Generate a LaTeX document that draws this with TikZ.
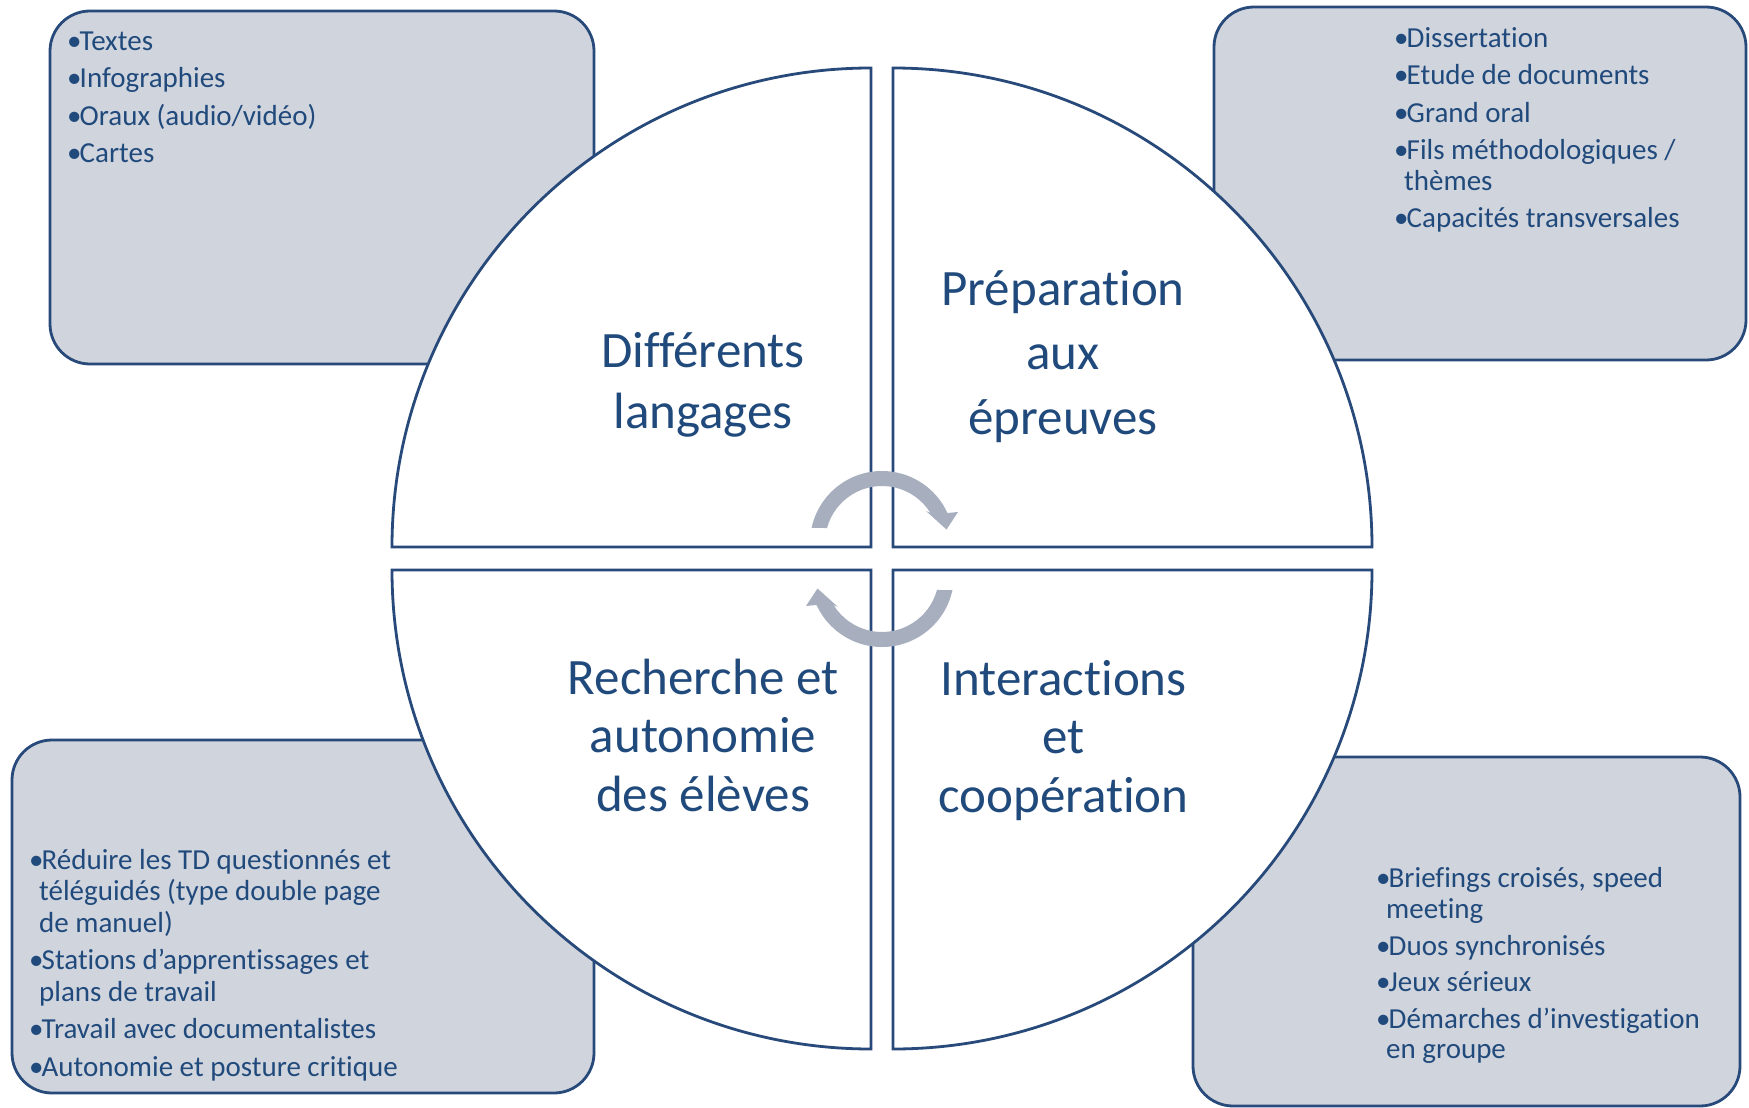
\documentclass[tikz,border=0pt]{standalone}
\usepackage{fontspec}
\setmainfont{Carlito}[Ligatures=CommonOff]
\usetikzlibrary{calc}
\definecolor{boxfill}{RGB}{208,212,221}
\definecolor{lineblue}{RGB}{40,74,122}
\definecolor{txtblue}{RGB}{33,74,124}
\definecolor{arrowgray}{RGB}{167,174,190}
\newcommand{\bul}{\makebox[12.5pt][l]{•}}
\newcommand{\hang}{\hspace*{10pt}}
\begin{document}
\begin{tikzpicture}[x=1pt,y=-1pt,
  sidebox/.style={draw=lineblue, line width=2.8pt, fill=boxfill, rounded corners=40pt},
  quad/.style={draw=lineblue, line width=2.8pt, fill=white},
  listtext/.style={anchor=north west, inner sep=0pt, align=left, text=txtblue,
    font=\fontsize{29}{31.5}\selectfont},
  quadtext/.style={anchor=north, inner sep=0pt, align=center, text=txtblue},
  cyclearrow/.style={fill=arrowgray, draw=none}]
\useasboundingbox (0,0) rectangle (1749,1108);

% side boxes
\draw[sidebox] (50,11) rectangle (594,364);
\draw[sidebox] (1214,7) rectangle (1746,360);
\draw[sidebox] (12,740) rectangle (594,1093);
\draw[sidebox] (1193,757) rectangle (1740,1106);

% quadrants
\draw[quad] (871,547) -- (392,547) arc[start angle=180,end angle=270,radius=479] -- cycle;
\draw[quad] (893,547) -- (893,68) arc[start angle=270,end angle=360,radius=479] -- cycle;
\draw[quad] (893,570) -- (1372,570) arc[start angle=0,end angle=90,radius=479] -- cycle;
\draw[quad] (871,570) -- (871,1049) arc[start angle=90,end angle=180,radius=479] -- cycle;

% list texts
\node[listtext] (tl) at (67,26) {\rule{0pt}{24pt}\bul Textes\\[6pt]
  \bul Infographies\\[6pt]
  \bul Oraux (audio/vidéo)\\[6pt]
  \bul Cartes};
\node[listtext] (tr) at (1394,23) {\rule{0pt}{24pt}\bul Dissertation\\[6pt]
  \bul Etude de documents\\[6pt]
  \bul Grand oral\\[6pt]
  \bul Fils méthodologiques /\\[-1pt]
  \hang thèmes\\[6pt]
  \bul Capacités transversales};
\node[listtext] (bl) at (29,845) {\rule{0pt}{24pt}\bul Réduire les TD questionnés et\\
  \hang téléguidés (type double page\\
  \hang de manuel)\\[6pt]
  \bul Stations d’apprentissages et\\
  \hang plans de travail\\[6pt]
  \bul Travail avec documentalistes\\[6pt]
  \bul Autonomie et posture critique};
\node[listtext] (br) at (1376,863) {\rule{0pt}{24pt}\bul Briefings croisés, speed\\
  \hang meeting\\[5pt]
  \bul Duos synchronisés\\[5pt]
  \bul Jeux sérieux\\[5pt]
  \bul Démarches d’investigation\\[-1pt]
  \hang en groupe};

% quadrant texts
\node[quadtext, font=\fontsize{51}{61}\selectfont] (qtl) at (703,322)
  {\rule{0pt}{45pt}Différents\\langages};
\node[quadtext, font=\fontsize{51}{64.5}\selectfont] (qtr) at (1063,260)
  {\rule{0pt}{45pt}Préparation\\aux\\épreuves};
\node[quadtext, font=\fontsize{51}{58.5}\selectfont] (qbl) at (703,649)
  {\rule{0pt}{45pt}Recherche et\\autonomie\\des élèves};
\node[quadtext, font=\fontsize{51}{58.5}\selectfont] (qbr) at (1063.5,650)
  {\rule{0pt}{45pt}Interactions\\et\\coopération};

% cycle arrows
\coordinate (ctop) at (882,543);
\fill[cyclearrow] (ctop) ++(192.2:72) arc[start angle=192.2,end angle=335.4,radius=72]
  -- (958,512) -- (946.5,529.5) -- (926,511) -- ($(ctop)+(328.2:57)$)
  arc[start angle=328.2,end angle=195.2,radius=57] -- cycle;
\begin{scope}[rotate around={180:(882,559)}]
\coordinate (cbot) at (882,543);
\fill[cyclearrow] (cbot) ++(192.2:72) arc[start angle=192.2,end angle=335.4,radius=72]
  -- (958,512) -- (946.5,529.5) -- (926,511) -- ($(cbot)+(328.2:57)$)
  arc[start angle=328.2,end angle=195.2,radius=57] -- cycle;
\end{scope}
\end{tikzpicture}
\end{document}
